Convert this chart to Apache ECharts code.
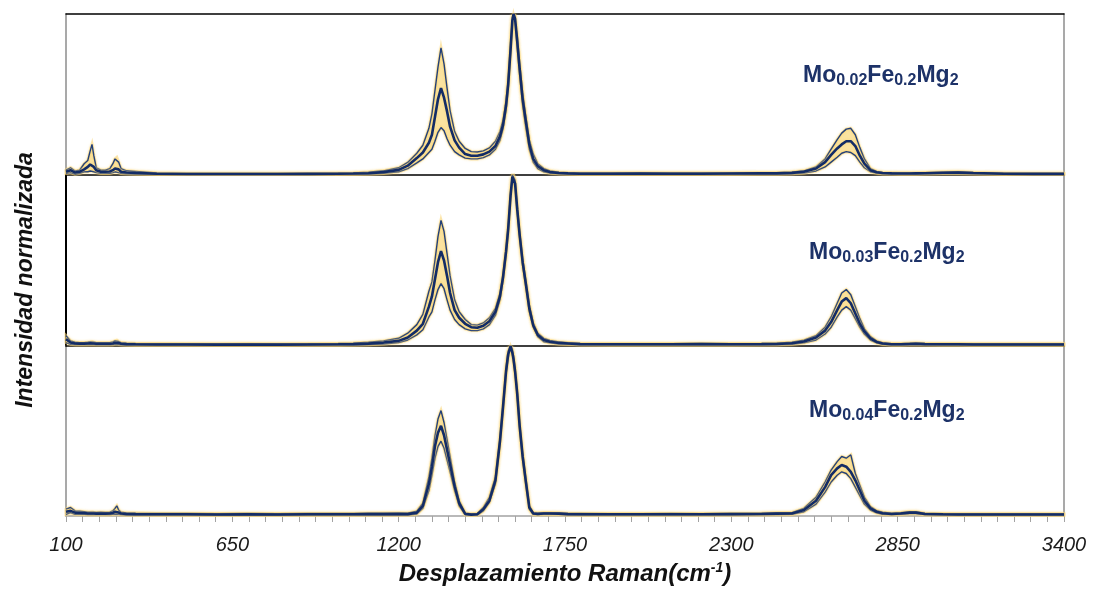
<!DOCTYPE html>
<html><head><meta charset="utf-8">
<script src="https://cdn.jsdelivr.net/npm/echarts@6/dist/echarts.min.js"></script>
<style>html,body{margin:0;padding:0;background:#fff}#c{width:1096px;height:589px}</style>
</head><body><div id="c"></div>
<script>
// Raman shift grid (cm-1)
const ramanShift = [100,115,130,145,160,172,180,186,192,200,215,230,245,255,262,268,274,282,300,330,400,500,600,700,800,900,1000,1050,1100,1150,1200,1230,1260,1280,1300,1310,1320,1330,1340,1350,1360,1370,1385,1400,1420,1440,1460,1480,1500,1520,1535,1545,1555,1562,1570,1576,1580,1585,1592,1600,1610,1620,1632,1645,1660,1680,1700,1730,1760,1800,1900,2000,2100,2200,2300,2400,2450,2500,2540,2580,2610,2630,2650,2665,2680,2695,2710,2725,2740,2760,2780,2800,2830,2860,2890,2910,2940,3000,3050,3100,3200,3300,3400];

// Panel 1: Mo0.02Fe0.2Mg2
const p1Lower = [.010,.015,.005,.010,.020,.020,.025,.030,.020,.015,.010,.010,.010,.015,.020,.020,.015,.010,.008,.006,.004,.003,.003,.003,.003,.003,.004,.004,.006,.010,.020,.040,.075,.100,.140,.160,.210,.265,.295,.275,.225,.185,.145,.125,.105,.100,.100,.108,.125,.160,.215,.285,.400,.530,.750,.940,.990,.950,.790,.620,.430,.300,.160,.080,.040,.020,.012,.008,.006,.005,.005,.005,.005,.005,.005,.006,.006,.008,.012,.025,.050,.080,.110,.135,.145,.140,.120,.080,.045,.020,.012,.008,.007,.006,.006,.006,.007,.009,.010,.008,.005,.004,.004];
const p1Mean  = [.020,.030,.015,.020,.035,.050,.065,.075,.050,.030,.020,.020,.022,.030,.040,.045,.035,.020,.016,.013,.008,.006,.006,.006,.006,.007,.008,.009,.011,.018,.032,.058,.105,.140,.200,.250,.360,.470,.540,.480,.395,.300,.215,.170,.130,.120,.120,.128,.145,.180,.240,.310,.430,.560,.780,.960,1.00,.970,.830,.660,.470,.340,.190,.100,.055,.030,.018,.012,.010,.008,.008,.009,.008,.008,.009,.010,.010,.013,.020,.040,.080,.125,.165,.190,.210,.210,.180,.120,.070,.030,.017,.012,.010,.009,.009,.010,.011,.014,.015,.012,.008,.007,.007];
const p1Upper = [.030,.045,.025,.030,.070,.090,.150,.190,.120,.045,.030,.030,.040,.070,.100,.110,.080,.040,.026,.022,.012,.010,.009,.009,.009,.010,.011,.013,.018,.026,.045,.078,.135,.185,.290,.380,.525,.670,.790,.690,.540,.400,.270,.210,.165,.145,.143,.150,.168,.210,.270,.340,.460,.590,.820,.980,1.00,.990,.870,.700,.510,.370,.220,.130,.070,.040,.025,.017,.014,.012,.012,.013,.012,.012,.013,.014,.014,.018,.026,.050,.100,.160,.220,.260,.285,.290,.250,.170,.100,.040,.022,.016,.014,.012,.012,.013,.015,.018,.020,.016,.011,.010,.010];

// Panel 2: Mo0.03Fe0.2Mg2
const p2Lower = [.020,.010,.008,.008,.008,.008,.008,.009,.008,.007,.007,.007,.007,.008,.010,.011,.009,.007,.006,.005,.005,.005,.004,.005,.004,.005,.005,.006,.008,.012,.020,.035,.065,.095,.170,.200,.270,.330,.365,.335,.270,.210,.155,.125,.100,.090,.090,.100,.125,.180,.270,.380,.530,.660,.860,.980,.990,.930,.780,.630,.470,.350,.200,.110,.055,.025,.018,.012,.010,.007,.006,.006,.006,.006,.006,.007,.007,.010,.018,.035,.070,.110,.170,.210,.230,.210,.160,.110,.070,.035,.018,.010,.006,.006,.007,.008,.007,.006,.006,.005,.005,.005,.005];
const p2Mean  = [.040,.020,.015,.014,.014,.015,.016,.017,.015,.013,.013,.013,.013,.015,.019,.021,.017,.013,.011,.010,.009,.009,.008,.009,.008,.009,.010,.011,.014,.020,.030,.050,.090,.130,.230,.290,.390,.490,.555,.500,.410,.310,.210,.165,.130,.110,.107,.118,.145,.200,.290,.400,.550,.680,.880,.990,1.00,.950,.800,.650,.490,.370,.220,.120,.065,.035,.025,.018,.015,.011,.010,.010,.010,.011,.010,.011,.012,.016,.026,.050,.090,.140,.210,.260,.280,.250,.190,.130,.085,.045,.024,.015,.010,.010,.012,.013,.011,.010,.010,.009,.009,.009,.009];
const p2Upper = [.060,.030,.022,.020,.020,.022,.024,.026,.022,.020,.019,.019,.020,.024,.030,.034,.026,.020,.017,.015,.014,.013,.012,.013,.012,.013,.015,.017,.022,.030,.045,.075,.125,.185,.320,.375,.500,.640,.735,.670,.540,.410,.270,.200,.155,.125,.122,.135,.165,.220,.310,.420,.570,.700,.900,1.00,1.00,.970,.820,.670,.510,.390,.240,.135,.075,.045,.032,.024,.020,.015,.014,.014,.014,.015,.014,.015,.017,.022,.034,.060,.110,.170,.250,.310,.330,.300,.230,.160,.100,.055,.030,.020,.014,.014,.016,.018,.015,.014,.014,.013,.013,.013,.013];

// Panel 3: Mo0.04Fe0.2Mg2
const p3Lower = [.010,.020,.010,.010,.010,.008,.008,.008,.008,.008,.008,.008,.008,.010,.012,.015,.010,.008,.006,.006,.005,.005,.004,.005,.004,.005,.005,.005,.006,.006,.006,.006,.012,.045,.150,.240,.340,.410,.440,.400,.330,.260,.150,.060,.008,.004,.006,.030,.080,.190,.420,.620,.830,.930,.990,.950,.900,.830,.700,.510,.330,.190,.040,.010,.008,.010,.010,.010,.007,.006,.006,.006,.006,.006,.007,.008,.009,.010,.025,.070,.140,.200,.240,.260,.250,.220,.170,.120,.070,.035,.018,.010,.008,.010,.015,.014,.008,.006,.005,.005,.005,.005,.005];
const p3Mean  = [.025,.030,.020,.018,.017,.015,.015,.016,.015,.014,.015,.014,.015,.018,.025,.030,.020,.015,.012,.011,.010,.010,.009,.010,.009,.010,.010,.010,.011,.011,.012,.011,.020,.060,.190,.290,.410,.490,.530,.475,.390,.305,.175,.075,.012,.008,.010,.040,.090,.210,.440,.640,.850,.950,1.00,.960,.920,.850,.720,.530,.350,.210,.050,.015,.012,.015,.015,.014,.011,.010,.010,.010,.010,.010,.011,.012,.014,.015,.035,.090,.170,.240,.280,.300,.290,.260,.210,.150,.090,.045,.025,.016,.012,.015,.020,.020,.012,.010,.009,.009,.009,.009,.009];
const p3Upper = [.040,.050,.030,.028,.025,.022,.022,.023,.022,.021,.022,.021,.022,.030,.045,.060,.035,.022,.018,.017,.015,.015,.014,.015,.014,.015,.015,.015,.016,.017,.018,.016,.028,.075,.230,.340,.470,.570,.620,.550,.450,.350,.200,.090,.018,.012,.015,.050,.110,.230,.460,.660,.870,.970,1.00,.980,.940,.870,.740,.550,.370,.230,.060,.020,.018,.020,.020,.018,.015,.015,.014,.014,.015,.014,.015,.016,.019,.020,.045,.110,.200,.270,.320,.350,.340,.360,.250,.180,.110,.055,.032,.022,.016,.020,.026,.025,.016,.014,.013,.013,.013,.013,.013];

// Axis ticks
const xMin = 100, xMax = 3400, xStep = 550;
const sampleNames = [
  ['Mo','0.02','Fe','0.2','Mg','2'],
  ['Mo','0.03','Fe','0.2','Mg','2'],
  ['Mo','0.04','Fe','0.2','Mg','2']
];
const xTitle = 'Desplazamiento Raman(cm';
const xTitleSup = '-1';
const yTitle = 'Intensidad normalizada';

const panels = [
  {lower: p1Lower, mean: p1Mean, upper: p1Upper},
  {lower: p2Lower, mean: p2Mean, upper: p2Upper},
  {lower: p3Lower, mean: p3Mean, upper: p3Upper}
];

const FONT = "'Liberation Sans', Arial, Helvetica, sans-serif";
const NAVY = '#132c66';
const BOUND = '#23407a';
const YELLOW = '#fbe3a0';
const GLOW = 'rgba(250,214,120,0.9)';

const chart = echarts.init(document.getElementById('c'), null, {renderer: 'canvas'});

const grids = [
  {left: 66, right: 32, top: 14, height: 161},
  {left: 66, right: 32, top: 175, height: 171},
  {left: 66, right: 32, top: 346, height: 175}
];

const baseX = {type: 'value', min: xMin, max: xMax, interval: xStep, splitLine: {show: false}};
const hiddenPart = {axisTick: {show: false}, axisLabel: {show: false}, splitLine: {show: false}};
function lineAxis(color, width) {
  return {show: true, onZero: false, lineStyle: {color: color, width: width}};
}

const xAxes = [
  Object.assign({}, baseX, {gridIndex: 0, show: false}),
  Object.assign({}, baseX, hiddenPart, {gridIndex: 0, position: 'top', axisLine: lineAxis('#000', 1.5)}),
  Object.assign({}, baseX, hiddenPart, {gridIndex: 1, position: 'bottom', axisLine: lineAxis('#000', 1.5)}),
  Object.assign({}, baseX, hiddenPart, {gridIndex: 1, position: 'top', axisLine: lineAxis('#000', 1.5)}),
  Object.assign({}, baseX, {
    gridIndex: 2, position: 'bottom',
    axisLine: lineAxis('#a3a3a3', 1.5),
    axisTick: {show: true, length: 6, lineStyle: {color: '#a3a3a3', width: 1}},
    minorTick: {show: true, splitNumber: 10, length: 6, lineStyle: {color: '#a3a3a3', width: 1}},
    axisLabel: {show: true, margin: 19, fontFamily: FONT, fontSize: 20, fontStyle: 'italic', color: '#1a1a1a',
      showMinLabel: true, showMaxLabel: true, formatter: v => String(v)},
    name: xTitle + '{sup|' + xTitleSup + '}' + ')',
    nameLocation: 'middle', nameGap: 45,
    nameTextStyle: {fontFamily: FONT, fontSize: 24, fontWeight: 'bold', fontStyle: 'italic', color: '#111', lineHeight: 27,
      rich: {sup: {fontFamily: FONT, fontSize: 14, fontWeight: 'bold', fontStyle: 'italic', color: '#111', verticalAlign: 'top', lineHeight: 17}}}
  })
];

const baseY = {type: 'value', min: 0, max: 1, splitLine: {show: false}, axisTick: {show: false}, axisLabel: {show: false}};
const yAxes = [
  Object.assign({}, baseY, {gridIndex: 0, position: 'left', axisLine: lineAxis('#8c8c8c', 1.5)}),
  Object.assign({}, baseY, {gridIndex: 0, position: 'right', axisLine: lineAxis('#8c8c8c', 1.5)}),
  Object.assign({}, baseY, {gridIndex: 1, position: 'left', axisLine: lineAxis('#000', 2)}),
  Object.assign({}, baseY, {gridIndex: 1, position: 'right', axisLine: lineAxis('#8c8c8c', 1.5)}),
  Object.assign({}, baseY, {gridIndex: 2, position: 'left', axisLine: lineAxis('#8c8c8c', 1.5)}),
  Object.assign({}, baseY, {gridIndex: 2, position: 'right', axisLine: lineAxis('#8c8c8c', 1.5)})
];

const dataAxisX = [0, 2, 4];
const dataAxisY = [0, 2, 4];

function pairs(arr) { return ramanShift.map((x, i) => [x, arr[i]]); }

const series = [];
panels.forEach((p, k) => {
  series.push({
    type: 'custom', coordinateSystem: 'cartesian2d',
    xAxisIndex: dataAxisX[k], yAxisIndex: dataAxisY[k],
    silent: true, z: 1, animation: false,
    data: [[ramanShift[0], p.lower[0]]],
    renderItem: function (params, api) {
      const pts = [];
      for (let i = 0; i < ramanShift.length; i++) pts.push(api.coord([ramanShift[i], p.upper[i]]));
      for (let i = ramanShift.length - 1; i >= 0; i--) pts.push(api.coord([ramanShift[i], p.lower[i]]));
      return {type: 'polygon', shape: {points: pts}, style: {fill: YELLOW, stroke: 'rgba(250,214,120,0.6)', lineWidth: 3}};
    }
  });
  [['lower', 1.4, BOUND], ['upper', 1.4, BOUND], ['mean', 2.6, NAVY]].forEach(([key, w, col]) => {
    series.push({
      type: 'line', name: key + k,
      xAxisIndex: dataAxisX[k], yAxisIndex: dataAxisY[k],
      data: pairs(p[key]), symbol: 'none', silent: true, animation: false, z: key === 'mean' ? 4 : 3,
      lineStyle: {color: col, width: w, shadowColor: GLOW, shadowBlur: 3}
    });
  });
});

const labelPos = [[803, 63], [809, 240], [809, 398]];
const graphics = sampleNames.map((parts, k) => ({
  type: 'text', x: labelPos[k][0], y: labelPos[k][1], z: 10,
  style: {
    text: '{m|' + parts[0] + '}{s|' + parts[1] + '}{m|' + parts[2] + '}{s|' + parts[3] + '}{m|' + parts[4] + '}{s|' + parts[5] + '}',
    align: 'left', verticalAlign: 'top',
    rich: {
      m: {fontFamily: FONT, fontSize: 23, fontWeight: 'bold', fill: '#1d3268', lineHeight: 26},
      s: {fontFamily: FONT, fontSize: 16, fontWeight: 'bold', fill: '#1d3268', lineHeight: 16, verticalAlign: 'bottom'}
    }
  }
}));
graphics.push({
  type: 'text', x: 26, y: 280, rotation: Math.PI / 2, z: 10,
  style: {text: yTitle, fontFamily: FONT, fontSize: 23, fontWeight: 'bold', fontStyle: 'italic', fill: '#111',
    align: 'center', verticalAlign: 'middle'}
});

chart.setOption({
  animation: false,
  backgroundColor: '#fff',
  grid: grids,
  xAxis: xAxes,
  yAxis: yAxes,
  series: series,
  graphic: graphics
});
</script></body></html>
